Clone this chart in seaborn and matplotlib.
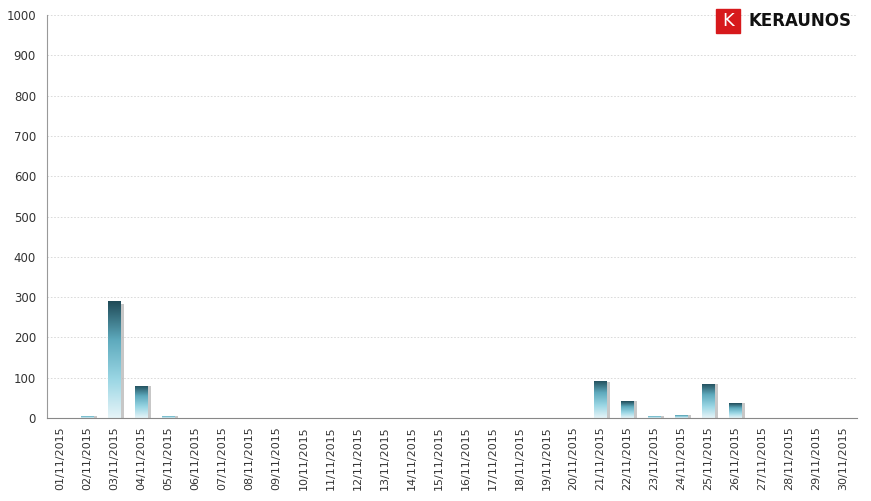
import numpy as np
import pandas as pd
import seaborn as sns
import matplotlib.pyplot as plt
from matplotlib.colors import LinearSegmentedColormap
from matplotlib.patches import Rectangle

# Datos
days = [f"{d:02d}/11/2015" for d in range(1, 31)]
counts = [0, 5, 290, 80, 5, 0, 0, 0, 0, 0,
          0, 0, 0, 0, 0, 0, 0, 0, 0, 0,
          92, 42, 5, 8, 85, 37, 0, 0, 0, 0]
df = pd.DataFrame({'day': days, 'count': counts})

sns.set_style('white')
fig = plt.figure(figsize=(8.71, 5.01), dpi=100)
ax = fig.add_axes([0.054, 0.1657, 0.93, 0.804])

sns.barplot(data=df, x='day', y='count', color='#5fa3b5', width=0.45, ax=ax)

# Degradado en cada barra
cmap = LinearSegmentedColormap.from_list('ker', ['#e6f4f8', '#9ad6e4', '#5eaabd', '#1f4a57'])
grad = np.linspace(0, 1, 256).reshape(-1, 1)
for p in list(ax.patches):
    x0, w, h = p.get_x(), p.get_width(), p.get_height()
    if h <= 0:
        continue
    # sombra
    ax.add_patch(Rectangle((x0 + w * 0.3, 0), w, h * 0.98, color='#999999', alpha=0.55,
                           zorder=1.5, lw=0))
    im = ax.imshow(grad, cmap=cmap, extent=(x0, x0 + w, 0, h), origin='lower',
                   aspect='auto', zorder=2)
    im.set_clip_path(p)
    p.set_facecolor('none')

ax.set_xlim(-0.5, 29.5)
ax.set_ylim(0, 1000)
ax.set_yticks(range(0, 1001, 100))
ax.yaxis.grid(True, color='#d5d5d5', linestyle=(0, (2, 2)), linewidth=0.6)
ax.set_axisbelow(True)
ax.set_xlabel('')
ax.set_ylabel('')

ax.set_xticks(range(30))
ax.set_xticklabels(days, rotation=90, fontsize=8, color='#333333')
ax.set_xticks(np.arange(-0.5, 30, 1), minor=True)
ax.tick_params(axis='x', which='major', length=0, pad=6)
ax.tick_params(axis='x', which='minor', length=5, color='#888888', direction='out')
ax.tick_params(axis='y', length=0, labelsize=8.5, labelcolor='#333333', pad=8)

for s in ['top', 'right']:
    ax.spines[s].set_visible(False)
ax.spines['left'].set_color('#999999')
ax.spines['bottom'].set_color('#888888')

# Logo
fig.patches.append(Rectangle((716 / 871, 1 - 33 / 501), 24 / 871, 24 / 501,
                             transform=fig.transFigure, color='#d7191c', figure=fig))
fig.text(728 / 871, 1 - 21 / 501, 'K', color='white', fontsize=13, ha='center',
         va='center', family='DejaVu Sans')
fig.text(748 / 871, 1 - 21 / 501, 'KERAUNOS', color='#111111', fontsize=12,
         ha='left', va='center', family='DejaVu Sans', fontweight='semibold')

plt.savefig('out.png', dpi=100)
